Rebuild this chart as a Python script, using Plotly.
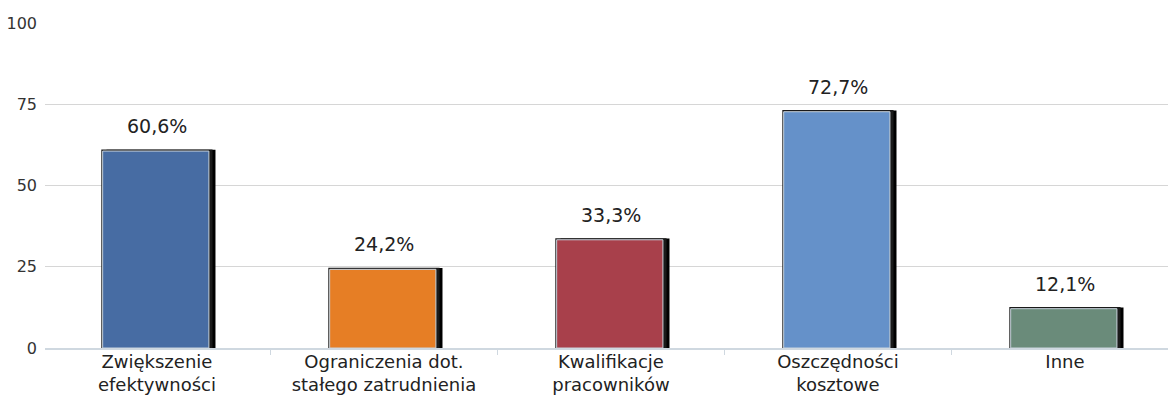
import plotly.graph_objects as go

categories = ["Zwiększenie<br>efektywności", "Ograniczenia dot.<br>stałego zatrudnienia",
              "Kwalifikacje<br>pracowników", "Oszczędności<br>kosztowe", "Inne"]
values = [60.6, 24.2, 33.3, 72.7, 12.1]
colors = ["#476ca3", "#e67e25", "#a8404b", "#6591c9", "#6a8b7a"]
y_ticks = [0, 25, 50, 75, 100]

labels = [f"{v:.1f}%".replace(".", ",") for v in values]
W = 0.48
FONT = "DejaVu Sans, Verdana, sans-serif"

fig = go.Figure()
# shadow (right offset)
fig.add_trace(go.Bar(x=categories, y=[v + 0.4 for v in values], width=W, offset=-W / 2 + 0.018,
                     marker=dict(color="#000000", line=dict(width=0)), hoverinfo="skip", showlegend=False))
# black outline
fig.add_trace(go.Bar(x=categories, y=[v + 0.5 for v in values], width=W + 0.01, offset=-W / 2 - 0.005,
                     marker=dict(color="#1a1a1a", line=dict(width=0)), hoverinfo="skip", showlegend=False))
# main colored bar with light inner line
fig.add_trace(go.Bar(x=categories, y=values, width=W - 0.012, offset=-W / 2 + 0.001,
                     marker=dict(color=colors, line=dict(color="#c9d3dc", width=1)),
                     showlegend=False))

for c, v, t in zip(categories, values, labels):
    fig.add_annotation(x=c, y=v, text=t, showarrow=False, yanchor="bottom", yshift=12,
                       font=dict(size=19, color="#222222", family=FONT))

fig.update_layout(
    width=1168, height=396,
    margin=dict(l=45, r=0, t=23, b=48),
    barmode="overlay",
    plot_bgcolor="white", paper_bgcolor="white",
    font=dict(family=FONT, color="#222222"),
)
fig.update_yaxes(range=[0, 100], tickvals=y_ticks, showgrid=True, gridcolor="#d6d6d6", gridwidth=1,
                 zeroline=False, showline=False, ticks="", tickfont=dict(size=16, color="#333333"),
                 ticklabelstandoff=7, automargin=False)
fig.update_xaxes(range=[-0.493, 4.454], showline=True, linecolor="#cfd8e0", linewidth=2, showgrid=False,
                 ticks="outside", tickson="boundaries", ticklen=5, tickcolor="#cfd8e0", tickwidth=1,
                 tickfont=dict(size=18, color="#222222"), automargin=False, ticklabelstandoff=-4)

fig.write_html("out.html")
